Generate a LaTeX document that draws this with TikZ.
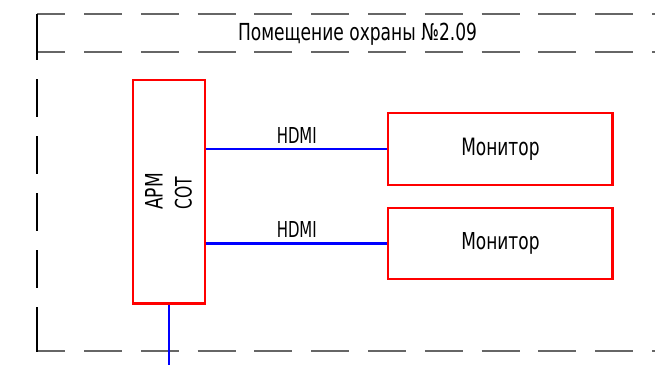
\documentclass[tikz,border=0pt]{standalone}
\usepackage{fontspec}
\setmainfont{DejaVu Sans}
\usepackage{graphicx}
\definecolor{framegray}{HTML}{666666}
\newcommand{\fitlbl}[3]{\resizebox{#1pt}{#2pt}{#3}}
\begin{document}
\begin{tikzpicture}[x=1pt,y=-1pt,
  redbox/.style={draw=red, line width=2.2pt, inner sep=0pt},
  wire/.style={draw=blue, line width=2.2pt},
  frameh/.style={draw=framegray, line width=2pt, dash pattern=on 38pt off 18.8pt, dash phase=9.8pt},
  framev/.style={draw=black, line width=1.3pt,
    dash pattern=on 46pt off 19pt on 38pt off 19pt on 38pt off 19pt on 38pt off 19pt on 38pt off 19pt on 45pt off 20pt},
  lbl/.style={inner sep=0pt, anchor=base}]
\useasboundingbox (0,0) rectangle (655,365);
% frame
\draw[frameh] (37,14) -- (655,14);
\draw[frameh] (37,52) -- (655,52);
\draw[frameh] (37,351) -- (655,351);
\draw[framev] (37,14) -- (37,352);
\node[lbl] (title) at (357.5,40.7) {\fitlbl{239}{17.4}{Помещение охраны №2.09}};
% boxes
\node[redbox, minimum width=72.6pt, minimum height=223.7pt] (apm) at (169,191.6) {};
\node[lbl, rotate=90] (arm) at (162.7,191.5) {\fitlbl{36.7}{17.5}{АРМ}};
\node[lbl, rotate=90] (sot) at (191.7,193) {\fitlbl{32.7}{16.8}{СОТ}};
\node[redbox, minimum width=224.3pt, minimum height=72.6pt] (mon1) at (500.4,148.9) {\fitlbl{78.3}{17.4}{Монитор}};
\node[redbox, minimum width=224.3pt, minimum height=71.6pt] (mon2) at (500.4,243.4) {\fitlbl{78.3}{17.0}{Монитор}};
% connectors
\coordinate (down) at (169,365);
\draw[wire] (apm.east |- mon1.west) -- node[lbl, midway, yshift=5.8pt] (hdmi1) {\fitlbl{40}{16}{HDMI}} (mon1.west);
\draw[wire] (apm.east |- mon2.west) -- node[lbl, midway, yshift=6.4pt] (hdmi2) {\fitlbl{40}{16}{HDMI}} (mon2.west);
\draw[wire] (apm.south) -- (apm.south |- down);
\end{tikzpicture}
\end{document}
